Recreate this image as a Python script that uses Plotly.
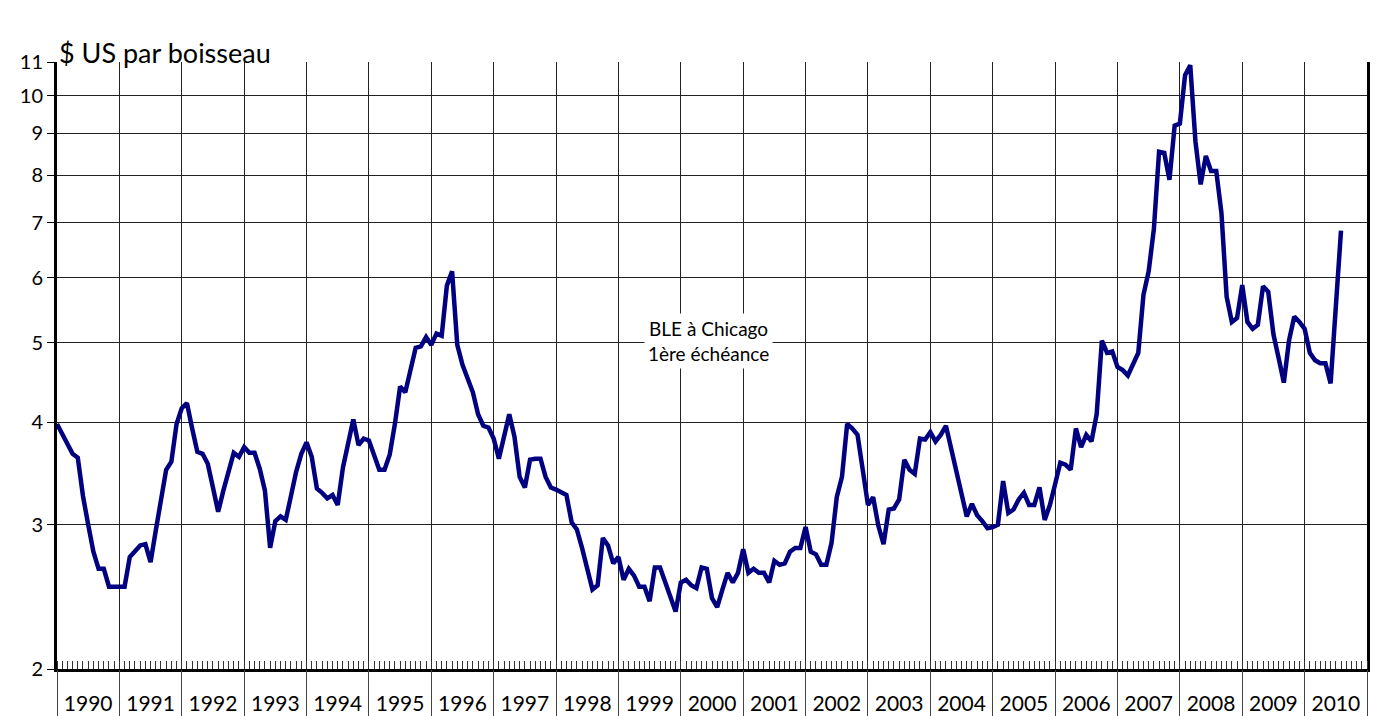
import numpy as np
import plotly.graph_objects as go

# Monthly wheat price (Chicago, 1st maturity), USD per bushel, Jan 1990 -> Aug 2010
start_year = 1990
prices = [
    # 1990
    3.98, 3.87, 3.76, 3.66, 3.62, 3.25, 3.00, 2.78, 2.65, 2.65, 2.52, 2.52,
    # 1991
    2.52, 2.52, 2.74, 2.79, 2.83, 2.84, 2.70, 2.95, 3.20, 3.50, 3.58, 3.98,
    # 1992
    4.16, 4.22, 3.93, 3.68, 3.66, 3.56, 3.33, 3.11, 3.30, 3.48, 3.67, 3.63,
    # 1993
    3.73, 3.67, 3.67, 3.51, 3.30, 2.81, 3.03, 3.07, 3.04, 3.25, 3.48, 3.66,
    # 1994
    3.78, 3.63, 3.32, 3.28, 3.23, 3.26, 3.17, 3.52, 3.78, 4.03, 3.75, 3.82,
    # 1995
    3.80, 3.66, 3.50, 3.50, 3.65, 3.98, 4.42, 4.35, 4.65, 4.93, 4.95, 5.08,
    # 1996
    4.97, 5.13, 5.10, 5.87, 6.11, 4.97, 4.70, 4.50, 4.35, 4.09, 3.96, 3.94,
    # 1997
    3.82, 3.61, 3.82, 4.09, 3.84, 3.43, 3.33, 3.60, 3.61, 3.61, 3.43, 3.33,
    # 1998
    3.31, 3.29, 3.26, 3.02, 2.96, 2.81, 2.64, 2.50, 2.53, 2.89, 2.83, 2.69,
    # 1999
    2.74, 2.57, 2.65, 2.60, 2.52, 2.52, 2.42, 2.66, 2.66, 2.55, 2.44, 2.35,
    # 2000
    2.55, 2.57, 2.53, 2.51, 2.66, 2.65, 2.44, 2.38, 2.50, 2.62, 2.55, 2.62,
    # 2001
    2.80, 2.62, 2.65, 2.62, 2.62, 2.55, 2.71, 2.68, 2.69, 2.78, 2.81, 2.81,
    # 2002
    2.98, 2.78, 2.76, 2.68, 2.68, 2.85, 3.24, 3.43, 3.98, 3.93, 3.86, 3.47,
    # 2003
    3.17, 3.24, 2.99, 2.84, 3.13, 3.14, 3.22, 3.60, 3.50, 3.46, 3.82, 3.81,
    # 2004
    3.89, 3.79, 3.86, 3.96, 3.72, 3.52, 3.28, 3.07, 3.18, 3.08, 3.03, 2.97,
    # 2005
    2.98, 3.00, 3.39, 3.10, 3.13, 3.22, 3.28, 3.17, 3.17, 3.33, 3.04, 3.17,
    # 2006
    3.36, 3.57, 3.55, 3.50, 3.93, 3.73, 3.86, 3.79, 4.09, 5.03, 4.86, 4.88,
    # 2007
    4.67, 4.63, 4.56, 4.70, 4.86, 5.72, 6.11, 6.88, 8.55, 8.52, 7.90, 9.20,
    # 2008
    9.25, 10.60, 10.90, 8.80, 7.80, 8.45, 8.10, 8.10, 7.20, 5.69, 5.30, 5.36,
    # 2009
    5.88, 5.30, 5.20, 5.26, 5.86, 5.77, 5.12, 4.79, 4.47, 5.03, 5.38, 5.30,
    # 2010
    5.20, 4.86, 4.76, 4.72, 4.72, 4.46, 5.56, 6.85,
]
years = list(range(1990, 2011))
y_ticks = [2, 3, 4, 5, 6, 7, 8, 9, 10, 11]

title_text = "$ US par boisseau"
note_text = "BLE à Chicago<br>1ère échéance"

x_vals = [start_year + i / 12 for i in range(len(prices))]

FONT = "Lato, 'Open Sans', sans-serif"

fig = go.Figure()
fig.add_trace(go.Scatter(
    x=x_vals, y=prices, mode="lines",
    line=dict(color="#000080", width=4.5),
    showlegend=False, hoverinfo="x+y",
))
# helper trace so the overlay axis (year separators) is drawn
fig.add_trace(go.Scatter(
    x=[years[0], years[-1] + 1], y=[None, None], xaxis="x2",
    mode="lines", showlegend=False, hoverinfo="skip",
))

x_range = [years[0], years[-1] + 1]

fig.update_layout(
    width=1378, height=716,
    margin=dict(l=57, r=11, t=62, b=47, autoexpand=False),
    paper_bgcolor="white", plot_bgcolor="white",
    font=dict(family=FONT, size=20, color="black"),
    xaxis=dict(
        range=x_range, automargin=False,
        tickmode="array",
        tickvals=[y + 0.5 for y in years],
        ticktext=[str(y) for y in years],
        ticks="outside", ticklen=14, tickcolor="rgba(0,0,0,0)",
        tickfont=dict(family=FONT, size=21, color="black"),
        showgrid=False, zeroline=False,
        showline=True, linecolor="black", linewidth=3,
        minor=dict(tick0=years[0], dtick=1 / 12, ticks="inside",
                   ticklen=8, tickwidth=1, tickcolor="#333", showgrid=False),
    ),
    xaxis2=dict(
        overlaying="x", anchor="y", side="bottom",
        range=x_range, automargin=False,
        tickmode="array",
        tickvals=years + [years[-1] + 1],
        showticklabels=False,
        ticks="outside", ticklen=47, tickwidth=1, tickcolor="#444",
        showgrid=True, gridcolor="#222", gridwidth=1,
        zeroline=False, showline=False,
    ),
    yaxis=dict(
        type="log", automargin=False,
        range=[np.log10(2), np.log10(11)],
        tickmode="array",
        tickvals=y_ticks,
        ticktext=[str(v) for v in y_ticks],
        ticks="outside", ticklen=7, tickcolor="black",
        tickfont=dict(family=FONT, size=20, color="black"),
        showgrid=True, gridcolor="#222", gridwidth=1,
        zeroline=False,
        showline=True, linecolor="black", linewidth=3, mirror=True,
    ),
    annotations=[
        dict(text=title_text, xref="paper", yref="paper", x=0, y=1.016,
             xanchor="left", yanchor="middle", showarrow=False,
             font=dict(family=FONT, size=27, color="black")),
        dict(text=note_text, xref="paper", yref="paper", x=0.4977, y=0.54,
             xanchor="center", yanchor="middle", showarrow=False,
             bgcolor="white", borderpad=3,
             font=dict(family=FONT, size=19, color="black")),
    ],
)

fig.write_html(
    "out.html",
    config={"displayModeBar": False},
    post_script="document.body.style.margin='0';document.body.style.overflow='hidden';",
)
